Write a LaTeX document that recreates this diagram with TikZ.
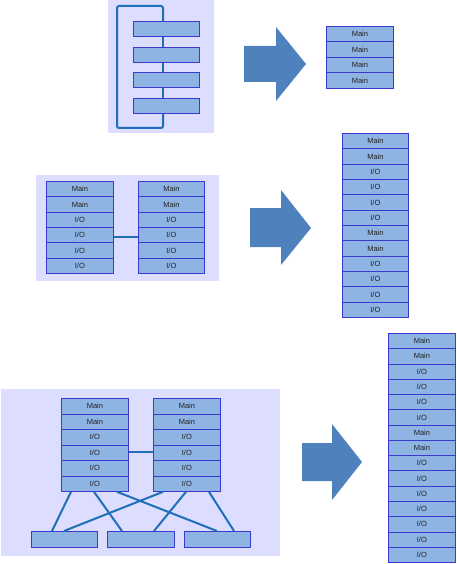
\documentclass[tikz,border=0pt]{standalone}
\usepackage{fontspec}
\setmainfont{Liberation Sans}
\usetikzlibrary{calc}
\definecolor{bgcol}{HTML}{DDDDFF}
\definecolor{boxfill}{HTML}{8EB4E3}
\definecolor{boxdraw}{HTML}{3A3AD0}
\definecolor{linecol}{HTML}{1F6FBA}
\definecolor{arrowcol}{HTML}{4F81BD}
\definecolor{txtcol}{HTML}{222222}
\tikzset{
  cell/.style={draw=boxdraw, fill=boxfill, line width=0.8pt, inner sep=0pt,
    text=txtcol, font=\fontsize{7.5}{8}\selectfont},
  panel/.style={fill=bgcol, draw=none},
  wire/.style={draw=linecol, line width=2pt},
  bigarrow/.style={fill=arrowcol, draw=none}
}
\newcommand\mystack[6]{%
  \foreach \t [count=\i] in {#6} {
    \node[cell, minimum width=#4pt, minimum height=#5pt, anchor=north west]
      (#1\i) at (#2, {#3+(\i-1)*#5}) {\t};
  }%
}
\begin{document}
\begin{tikzpicture}[x=1pt,y=-1pt]
\useasboundingbox (0,0) rectangle (456,564);
\fill[white] (0,0) rectangle (456,564);

% ---------- panel 1 ----------
\fill[panel] (108,0) rectangle (214,133);
\coordinate (p1a) at (163,6);
\coordinate (p1b) at (117,6);
\coordinate (p1c) at (117,128);
\coordinate (p1d) at (163,128);
\foreach \yy [count=\i] in {21,47,72,98} {
  \node[cell, minimum width=66pt, minimum height=15pt, anchor=north west] (b\i) at (133,\yy) {};
}
\draw[wire, rounded corners=2pt] (b1.north -| p1a) -- (p1a) -- (p1b) -- (p1c) -- (p1d) -- (b4.south -| p1d);
\draw[wire] (b1.south -| p1a) -- (b2.north -| p1a);
\draw[wire] (b2.south -| p1a) -- (b3.north -| p1a);
\draw[wire] (b3.south -| p1a) -- (b4.north -| p1a);
\fill[bigarrow] (244,46) -- (276,46) -- (276,27) -- (306,64) -- (276,101) -- (276,82) -- (244,82) -- cycle;
\mystack{r}{326}{26}{67}{15.5}{Main,Main,Main,Main}

% ---------- panel 2 ----------
\fill[panel] (36,175) rectangle (219,281);
\mystack{la}{46}{181}{67}{15.33}{Main,Main,I/O,I/O,I/O,I/O}
\mystack{lb}{138}{181}{66}{15.33}{Main,Main,I/O,I/O,I/O,I/O}
\draw[wire] ($(la4.east)+(0,2)$) -- ($(lb4.west)+(0,2)$);
\fill[bigarrow] (250,208) -- (281,208) -- (281,190) -- (311,228) -- (281,265) -- (281,247) -- (250,247) -- cycle;
\mystack{rr}{342}{133}{66}{15.33}{Main,Main,I/O,I/O,I/O,I/O,Main,Main,I/O,I/O,I/O,I/O}

% ---------- panel 3 ----------
\fill[panel] (1,389) rectangle (280,556);
\node[cell, minimum width=66pt, minimum height=16pt, anchor=north west] (ba) at (31,531) {};
\node[cell, minimum width=67pt, minimum height=16pt, anchor=north west] (bb) at (107,531) {};
\node[cell, minimum width=66pt, minimum height=16pt, anchor=north west] (bc) at (184,531) {};
\mystack{ma}{61}{398}{67}{15.5}{Main,Main,I/O,I/O,I/O,I/O}
\mystack{mb}{153}{398}{67}{15.5}{Main,Main,I/O,I/O,I/O,I/O}
\draw[wire] ($(ma6.south west)+(10,0)$) -- ($(ba.north west)+(21,0)$);
\draw[wire] ($(ma6.south west)+(33,0)$) -- ($(bb.north west)+(15,0)$);
\draw[wire] ($(ma6.south west)+(56,0)$) -- ($(bc.north west)+(33,0)$);
\draw[wire] ($(mb6.south west)+(10,0)$) -- ($(ba.north west)+(33,0)$);
\draw[wire] ($(mb6.south west)+(33,0)$) -- ($(bb.north west)+(47,0)$);
\draw[wire] ($(mb6.south west)+(56,0)$) -- ($(bc.north west)+(50,0)$);
\draw[wire] ($(ma4.east)+(0,-1)$) -- ($(mb4.west)+(0,-1)$);
\fill[bigarrow] (302,443) -- (332,443) -- (332,424) -- (362,462) -- (332,500) -- (332,481) -- (302,481) -- cycle;
\mystack{rs}{388}{333}{67}{15.27}{Main,Main,I/O,I/O,I/O,I/O,Main,Main,I/O,I/O,I/O,I/O,I/O,I/O,I/O}
\end{tikzpicture}
\end{document}
